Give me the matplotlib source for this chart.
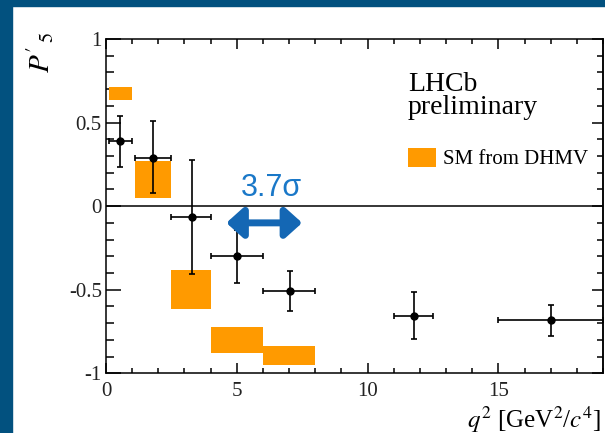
import numpy as np
import matplotlib
matplotlib.use('Agg')
import matplotlib.pyplot as plt
from matplotlib.patches import Rectangle, Patch
from matplotlib.ticker import MultipleLocator, FixedLocator

plt.rcParams['font.family'] = ['Liberation Serif', 'DejaVu Serif']
plt.rcParams['mathtext.fontset'] = 'stix'
plt.rcParams['axes.unicode_minus'] = False

# dados LHCb (P'5 em bins de q2)
bin_lo = [0.1, 1.1, 2.5, 4.0, 6.0, 11.0, 15.0]
bin_hi = [0.98, 2.5, 4.0, 6.0, 8.0, 12.5, 19.0]
q2_centro = [0.54, 1.81, 3.28, 5.0, 7.02, 11.79, 17.03]
p5 = [0.387, 0.289, -0.066, -0.300, -0.505, -0.655, -0.684]
p5_err_up = [0.15, 0.22, 0.34, 0.16, 0.12, 0.14, 0.09]
p5_err_dn = [0.15, 0.21, 0.34, 0.16, 0.12, 0.14, 0.09]

# previsao SM (DHMV)
sm_lo = [0.1, 1.1, 2.5, 4.0, 6.0]
sm_hi = [0.98, 2.5, 4.0, 6.0, 8.0]
sm_min = [0.637, 0.05, -0.615, -0.878, -0.950]
sm_max = [0.712, 0.273, -0.383, -0.721, -0.838]

# seta de tensao 3.7 sigma
seta_x = (4.6, 7.5)
seta_y = -0.10

azul_fundo = '#02517f'
azul = '#1467b4'
laranja = '#ff9a00'

W, H = 605, 433
fig = plt.figure(figsize=(W / 100, H / 100), dpi=100)
fig.patch.set_facecolor('white')
fig.patches.append(Rectangle((0, 0), 12 / W, 1, transform=fig.transFigure,
                             color=azul_fundo, zorder=0))
fig.patches.append(Rectangle((0, 1 - 6 / H), 1, 6 / H, transform=fig.transFigure,
                             color=azul_fundo, zorder=0))

ax = fig.add_axes([106 / W, 1 - 373.3 / H, (603 - 106) / W, (373.3 - 39) / H])

# caixas SM
sm_lo_a = np.array(sm_lo)
sm_hi_a = np.array(sm_hi)
ax.bar(x=sm_lo_a, width=sm_hi_a - sm_lo_a, bottom=sm_min,
       height=np.array(sm_max) - np.array(sm_min), align='edge',
       color=laranja, edgecolor='none', zorder=2)

ax.axhline(0, color='black', lw=1.1, zorder=3)

# pontos com barras de erro
xc = np.array(q2_centro)
xerr = [xc - np.array(bin_lo), np.array(bin_hi) - xc]
ax.errorbar(xc, p5, xerr=xerr, yerr=[p5_err_dn, p5_err_up], fmt='o',
            color='black', ms=5, elinewidth=1.2, capsize=2.5, capthick=1.2,
            zorder=4, clip_on=True)

ax.set_xlim(0, 19)
ax.set_ylim(-1, 1)

for s in ax.spines.values():
    s.set_linewidth(1.1)

ax.xaxis.set_major_locator(FixedLocator([0, 5, 10, 15]))
ax.xaxis.set_minor_locator(MultipleLocator(1))
ax.yaxis.set_major_locator(MultipleLocator(0.5))
ax.yaxis.set_minor_locator(MultipleLocator(0.1))
ax.set_xticklabels(['0', '5', '10', '15'])
ax.set_yticks([-1, -0.5, 0, 0.5, 1])
ax.set_yticklabels(['-1', '-0.5', '0', '0.5', '1'])

ax.tick_params(axis='x', which='major', direction='in', length=7.2, width=1.1,
               top=True, labelsize=15, pad=6, labelcolor='#222222')
ax.tick_params(axis='x', which='minor', direction='in', length=3.6, width=1.1, top=True)
ax.tick_params(axis='y', which='major', direction='in', length=10.8, width=1.1,
               labelsize=15, pad=3, labelcolor='#222222')
ax.tick_params(axis='y', which='minor', direction='in', length=5.8, width=1.1)

dir_ax = ax.secondary_yaxis('right')
dir_ax.yaxis.set_major_locator(MultipleLocator(0.5))
dir_ax.yaxis.set_minor_locator(MultipleLocator(0.1))
dir_ax.tick_params(which='major', direction='in', length=7.9, width=1.1, labelright=False)
dir_ax.tick_params(which='minor', direction='in', length=4.3, width=1.1)
dir_ax.spines['right'].set_linewidth(1.1)

# seta e texto
ax.annotate('', xy=(seta_x[1], seta_y), xytext=(seta_x[0], seta_y),
            arrowprops=dict(arrowstyle='<|-|>,head_length=0.5,head_width=0.45',
                            color=azul, lw=5, mutation_scale=20,
                            shrinkA=0, shrinkB=0), zorder=5)
fig.text(271 / W, 1 - 188 / H, '3.7σ', color='#1a78c8', fontsize=22,
         family=['Liberation Sans', 'DejaVu Sans'], ha='center', va='center')

# textos LHCb
fig.text(408 / W, 1 - 91 / H, 'LHCb', fontsize=20, ha='left', va='baseline')
fig.text(408 / W, 1 - 114 / H, 'preliminary', fontsize=20, ha='left', va='baseline')

leg = ax.legend(handles=[Patch(facecolor=laranja, edgecolor='none', label='SM from DHMV')],
                loc='upper left', bbox_to_anchor=(302 / 497, 1 - 109 / 334.3),
                frameon=False, fontsize=15, handlelength=1.35, handleheight=1.0,
                handletextpad=0.35, borderpad=0, borderaxespad=0)

# rotulos dos eixos
fig.text(40 / W, 1 - 52 / H, r"$P'_{\,5}$", fontsize=21, rotation=90,
         ha='center', va='center')
fig.text(467 / W, 1 - 428 / H, r'$q^2$ [GeV$^2$/$c^4$]', fontsize=18,
         ha='left', va='baseline')

fig.savefig('out.png', dpi=100, facecolor=fig.get_facecolor())
